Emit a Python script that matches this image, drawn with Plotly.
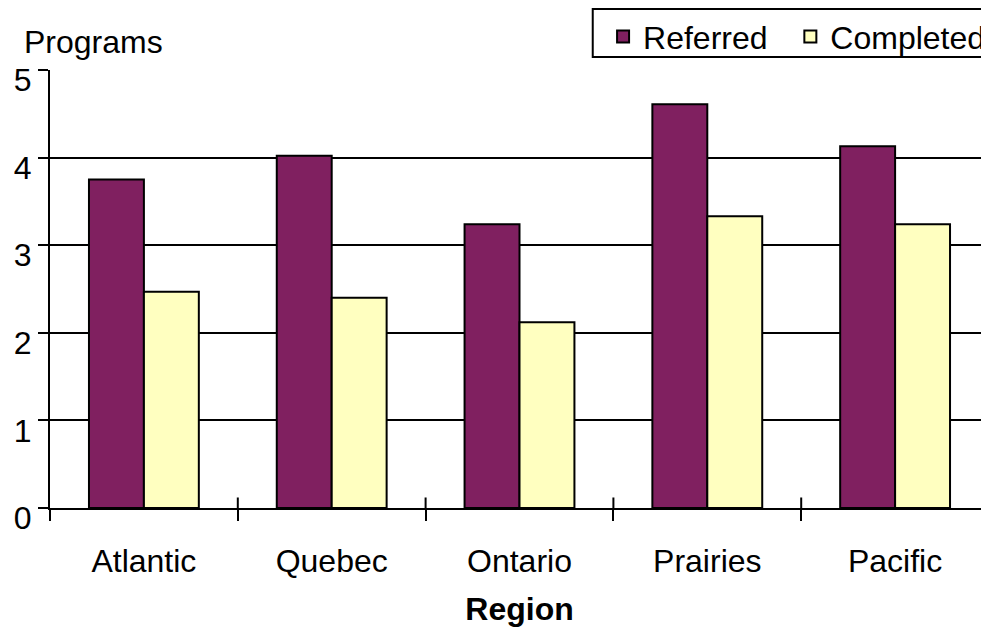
import plotly.graph_objects as go

regions = ["Atlantic", "Quebec", "Ontario", "Prairies", "Pacific"]
referred = [3.75, 4.02, 3.24, 4.61, 4.13]
completed = [2.47, 2.40, 2.12, 3.33, 3.24]
y_ticks = [0, 1, 2, 3, 4, 5]

FONT = "Liberation Sans, Arial, sans-serif"
FS = 32

fig = go.Figure()
fig.add_trace(go.Bar(name="Referred\u00a0\u00a0", x=regions, y=referred,
                     marker=dict(color="#802060", line=dict(color="black", width=2))))
fig.add_trace(go.Bar(name="Completed", x=regions, y=completed,
                     marker=dict(color="#FFFFC0", line=dict(color="black", width=2))))

# category boundary ticks crossing above the axis
for i in range(1, len(regions)):
    fig.add_shape(type="line", xref="x", yref="y", x0=i - 0.5, x1=i - 0.5,
                  y0=0, y1=0.12, line=dict(color="black", width=2))

# legend frame
fig.add_shape(type="rect", xref="paper", yref="paper", x0=0.578, x1=1.03,
              y0=1.0297, y1=1.139, line=dict(color="black", width=2),
              fillcolor="white", layer="above")

fig.update_layout(
    width=981, height=622,
    margin=dict(l=42, r=0, t=62, b=122, autoexpand=False),
    paper_bgcolor="white", plot_bgcolor="white",
    barmode="group", bargap=0.415, bargroupgap=0,
    font=dict(family=FONT, size=FS, color="black"),
    showlegend=True,
    legend=dict(orientation="h", x=0.589, xanchor="left", y=1.139, yanchor="top",
                borderwidth=0, bgcolor="rgba(0,0,0,0)",
                font=dict(size=FS), traceorder="normal"),
    annotations=[dict(text="Programs", xref="paper", yref="paper", x=-0.03, y=1.064,
                      xanchor="left", yanchor="middle", showarrow=False,
                      font=dict(size=FS))],
)
fig.update_xaxes(
    automargin=False,
    showline=True, linecolor="black", linewidth=2,
    ticks="outside", tickson="boundaries", ticklen=11, tickwidth=2, tickcolor="black",
    ticklabelstandoff=24,
    showgrid=False, title=dict(text="<b>Region</b>", font=dict(size=FS), standoff=19),
    tickfont=dict(size=FS),
)
fig.update_yaxes(
    automargin=False,
    range=[0, 5], tickvals=y_ticks, showline=True, linecolor="black", linewidth=2,
    ticks="outside", ticklen=10, tickwidth=2, tickcolor="black",
    ticklabelstandoff=0, ticklabelshift=10,
    showgrid=True, gridcolor="black", gridwidth=2, zeroline=False,
    tickfont=dict(size=FS),
)

fig.write_html("out.html")
